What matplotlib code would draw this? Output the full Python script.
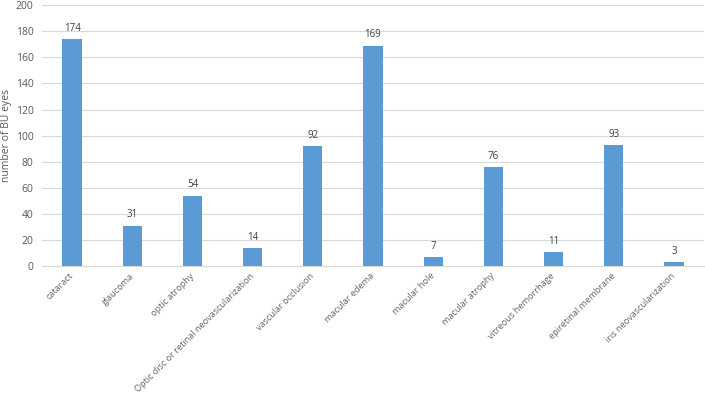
import matplotlib.pyplot as plt
import numpy as np

# categories and counts
categories = ['cataract', 'glaucoma', 'optic atrophy',
              'Optic disc or retinal neovascularization', 'vascular occlusion',
              'macular edema', 'macular hole', 'macular atrophy',
              'vitreous hemorrhage', 'epiretinal membrane', 'iris neovascularization']
counts = [174, 31, 54, 14, 92, 169, 7, 76, 11, 93, 3]
y_ticks = [0, 20, 40, 60, 80, 100, 120, 140, 160, 180, 200]

plt.rcParams['font.family'] = ['Open Sans', 'DejaVu Sans']

fig = plt.figure(figsize=(7.05, 3.99), dpi=100)
ax = fig.add_axes([0.0596, 0.333, 0.939, 0.654])

x = np.arange(len(categories))
ax.bar(x, counts, width=0.32, color='#5B9BD5', zorder=3)

for xi, v in zip(x, counts):
    ax.text(xi, v + 4, str(v), ha='center', va='bottom', fontsize=7, color='#404040')

ax.set_xlim(-0.5, len(categories) - 0.5)
ax.set_ylim(0, 200)
ax.set_yticks(y_ticks)
ax.yaxis.grid(True, color='#D9D9D9', linewidth=0.8, zorder=0)
ax.set_xticks(x)
ax.set_xticklabels(categories, rotation=45, ha='right', va='center',
                   rotation_mode='anchor', fontsize=6.6, color='#666666')
ax.tick_params(axis='y', labelsize=7.5, labelcolor='#595959', length=0, pad=6)
ax.tick_params(axis='x', length=0, pad=6)
for s in ['top', 'right', 'left']:
    ax.spines[s].set_visible(False)
ax.spines['bottom'].set_color('#D9D9D9')
ax.set_ylabel('number of BU eyes', fontsize=7.5, color='#595959')
ax.yaxis.set_label_coords(-0.045, 0.5)

fig.savefig('out.png', dpi=100)
